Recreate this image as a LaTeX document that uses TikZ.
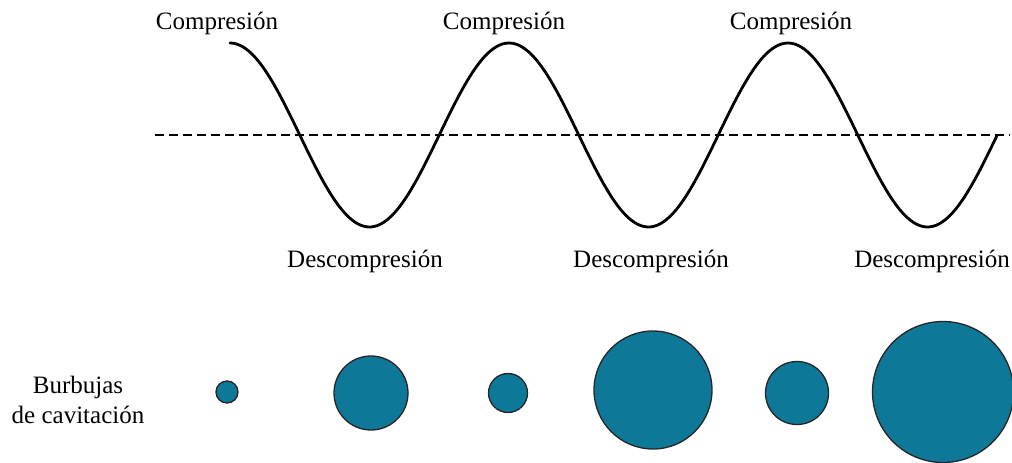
\documentclass[tikz,border=0pt]{standalone}
\usepackage{fontspec}
\setmainfont{Liberation Serif}
\definecolor{bubble}{RGB}{14,120,152}
\begin{document}
\begin{tikzpicture}[x=1pt,y=-1pt,
  lbl/.style={font=\fontsize{25}{30}\selectfont, anchor=base, inner sep=0pt},
  bub/.style={circle, draw=black!85, line width=1.3pt, fill=bubble, inner sep=0pt},
  wave/.style={line width=2.8pt, line join=round, line cap=round},
  axisline/.style={line width=2.2pt, dash pattern=on 9pt off 5pt}]
\useasboundingbox (0,0) rectangle (1012,463);
\fill[white] (0,0) rectangle (1012,463);
% baseline
\coordinate (dl) at (155,135);
\coordinate (dr) at (1010,135);
\draw[axisline] (dl) -- (dr);
% wave
\draw[wave] plot[domain=230:997, samples=240, smooth] (\x, {135-92*cos((\x-230)/279*360)});
% labels
\node[lbl] (c1) at (217,29) {Compresión};
\node[lbl] (c2) at (504,29) {Compresión};
\node[lbl] (c3) at (791,29) {Compresión};
\node[lbl] (d1) at (365,267) {Descompresión};
\node[lbl] (d2) at (651,267) {Descompresión};
\node[lbl] (d3) at (932,267) {Descompresión};
\node[lbl] (b1) at (78,393) {Burbujas};
\node[lbl] (b2) at (78,423) {de cavitación};
% bubbles
\node[bub, minimum size=22pt] (p1) at (227,392) {};
\node[bub, minimum size=74pt] (p2) at (371,393) {};
\node[bub, minimum size=39pt] (p3) at (508,393) {};
\node[bub, minimum size=118pt] (p4) at (653,390) {};
\node[bub, minimum size=63pt] (p5) at (797,393) {};
\node[bub, minimum size=141pt] (p6) at (943,392) {};
\end{tikzpicture}
\end{document}
